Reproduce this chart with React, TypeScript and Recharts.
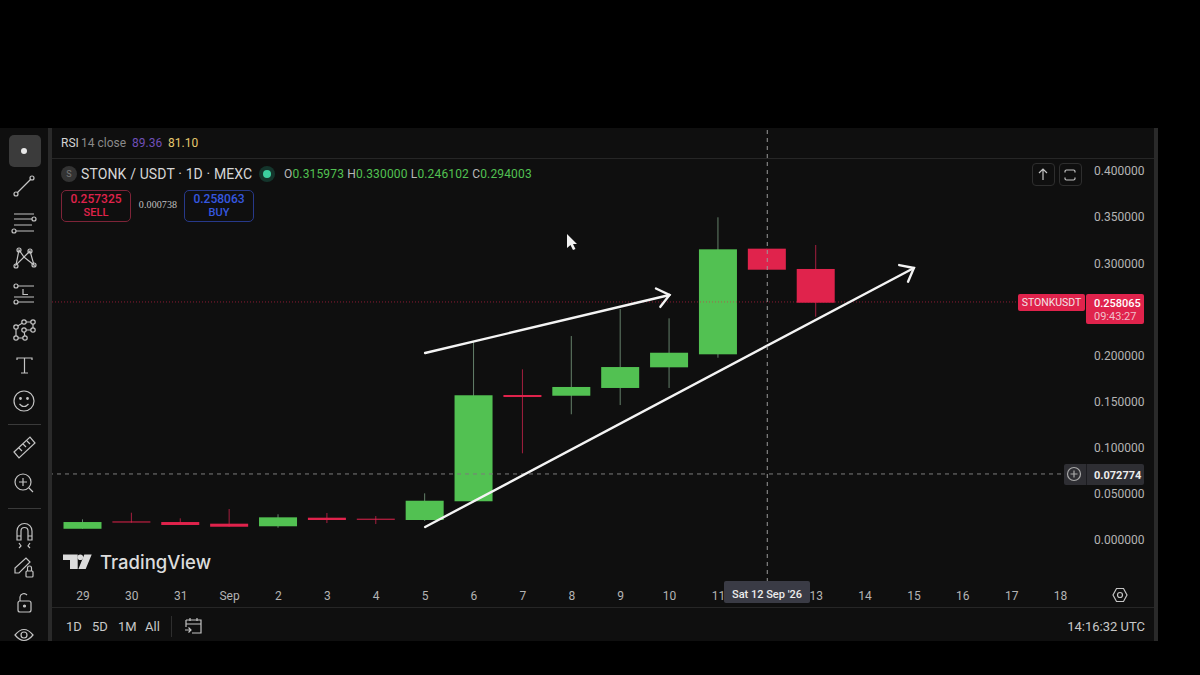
import { Bar, ComposedChart, ReferenceLine, XAxis, YAxis } from 'recharts'

const days = ['29', '30', '31', 'Sep', '2', '3', '4', '5', '6', '7', '8', '9', '10', '11', '12', '13', '14', '15', '16', '17', '18']
const opens = [0.0122, 0.0201, 0.0195, 0.0177, 0.0149, 0.0242, 0.0231, 0.0217, 0.042, 0.1572, 0.1564, 0.1648, 0.1872, 0.2013, 0.3158, 0.2938]
const highs = [0.0224, 0.0296, 0.0235, 0.0336, 0.0279, 0.0293, 0.026, 0.0506, 0.215, 0.185, 0.2211, 0.2504, 0.2403, 0.3498, 0.3158, 0.3198]
const lows = [0.0122, 0.0188, 0.0163, 0.0144, 0.0133, 0.0184, 0.0173, 0.0206, 0.042, 0.094, 0.1363, 0.1463, 0.1648, 0.1976, 0.293, 0.2421]
const closes = [0.0195, 0.0193, 0.0163, 0.0144, 0.0246, 0.0217, 0.022, 0.0426, 0.1569, 0.155, 0.1659, 0.1875, 0.203, 0.3151, 0.293, 0.2572]
const priceTicks = [0, 0.05, 0.1, 0.15, 0.2, 0.3, 0.35, 0.4]
const lastPrice = 0.258065
const crosshairLevel = 0.0716
const crosshairDay = '12'
const upperArrow = [{ x: '5', y: 0.2027 }, { x: '10', y: 0.2656 }]
const lowerArrow = [{ x: '5', y: 0.0141 }, { x: '15', y: 0.2949 }]

const chartData = days.map((day, i) => ({
  day,
  open: opens[i],
  high: highs[i],
  low: lows[i],
  close: closes[i],
  range: i < opens.length ? [lows[i], highs[i]] : null,
}))

const GREEN = '#52c152'
const RED = '#e0234c'
const PANEL = '#0f0f0f'
const TEXT = '#b4b4b4'
const ICON = '#c4c4c4'

function Candle({ x, y, width, height, payload }: any) {
  if (!payload || payload.range == null) return null
  const { open, high, low, close } = payload
  const perUnit = height / (high - low)
  const yOf = (v: number) => y + (high - v) * perUnit
  const isUp = close >= open
  const color = isUp ? GREEN : RED
  const top = yOf(Math.max(open, close))
  const bottom = yOf(Math.min(open, close))
  const mid = x + width / 2
  return (
    <g>
      <line x1={mid} x2={mid} y1={yOf(high)} y2={yOf(low)} stroke={isUp ? '#64806a' : '#a51f3f'} strokeWidth={1} />
      <rect x={x} y={top} width={width} height={Math.max(bottom - top, 1)} fill={color} />
    </g>
  )
}

function Arrow({ x1, y1, x2, y2 }: any) {
  const angle = Math.atan2(y2 - y1, x2 - x1)
  const barb = (side: number) => ({
    x: x2 - 15 * Math.cos(angle + side * 0.68),
    y: y2 - 15 * Math.sin(angle + side * 0.68),
  })
  const a = barb(1)
  const b = barb(-1)
  return (
    <g stroke="#f4f4f4" strokeWidth={2.4} fill="none" strokeLinecap="round">
      <line x1={x1} y1={y1} x2={x2} y2={y2} />
      <polyline points={`${a.x},${a.y} ${x2},${y2} ${b.x},${b.y}`} />
    </g>
  )
}

function Txt({ x, y, color = TEXT, size = 12, right, center, weight, font, spacing, children }: any) {
  const horizontal = center ? { left: x, transform: 'translate(-50%, -50%)' } : right ? { right: 1200 - x, transform: 'translateY(-50%)' } : { left: x, transform: 'translateY(-50%)' }
  return (
    <div
      style={{
        position: 'absolute',
        top: y,
        ...horizontal,
        color,
        fontSize: size,
        fontWeight: weight,
        letterSpacing: spacing,
        fontFamily: font ?? 'Roboto, sans-serif',
        whiteSpace: 'nowrap',
        lineHeight: 1,
      }}
    >
      {children}
    </div>
  )
}

function Box({ x, y, w, h, style }: any) {
  return <div style={{ position: 'absolute', left: x, top: y, width: w, height: h, boxSizing: 'border-box', ...style }} />
}

// drawn in page coordinates, one layer for all the toolbar glyphs
function ToolIcons() {
  return (
    <svg width={1200} height={675} style={{ position: 'absolute', left: 0, top: 0 }} fill="none" stroke={ICON} strokeWidth={1.2}>
      <circle cx={24} cy={151} r={3} fill="#e8e8e8" stroke="none" />
      {/* trend line */}
      <path d="M17 193 L31 179" />
      <circle cx={16} cy={194} r={2} />
      <circle cx={32} cy={178} r={2} />
      {/* parallel lines */}
      <path d="M14 214 H34 M14 219 H32 M14 225 H32 M16 231 H34" />
      <circle cx={34} cy={219} r={2} />
      <circle cx={14} cy={231} r={2} />
      {/* pattern */}
      <path d="M16 265 L19 250 L24 257 L30 251 L34 265 L24 257 Z" />
      <circle cx={16} cy={266} r={2} />
      <circle cx={19} cy={250} r={2} />
      <circle cx={30} cy={251} r={2} />
      <circle cx={34} cy={265} r={2} />
      {/* fib */}
      <path d="M18 286 H34 M14 297 H34 M18 302 H34 M23 289 V294.5 H28" />
      <circle cx={16} cy={286} r={2} />
      <circle cx={16} cy={302} r={2} />
      {/* nodes */}
      <path d="M16 338 H25 L24 330 H33 V322 H24 L16 327 Z" />
      <circle cx={16} cy={327} r={2.2} fill={PANEL} />
      <circle cx={24} cy={322} r={2.2} fill={PANEL} />
      <circle cx={33} cy={322} r={2.2} fill={PANEL} />
      <circle cx={33} cy={330} r={2.2} fill={PANEL} />
      <circle cx={24} cy={330} r={2.2} fill={PANEL} />
      <circle cx={16} cy={338} r={2.2} fill={PANEL} />
      <circle cx={25} cy={338} r={2.2} fill={PANEL} />
      {/* text tool */}
      <path d="M17 360 V358 H32 V360 M24.5 358 V373 M21 373 H28" />
      {/* smile */}
      <circle cx={24} cy={401} r={10} />
      <path d="M19.5 404 Q24 409 28.5 404" />
      <circle cx={20.5} cy={398.5} r={0.8} fill={ICON} />
      <circle cx={27.5} cy={398.5} r={0.8} fill={ICON} />
      {/* ruler */}
      <path d="M14 452 L30 437 L35 443 L19 458 Z M19 448 L22 451 M23 444 L26 447 M27 441 L30 444" />
      {/* zoom */}
      <circle cx={23} cy={482} r={8} />
      <path d="M29 488 L33 492 M19 482 H27 M23 478 V486" />
      {/* magnet */}
      <path d="M17 540 V531 A7 7 0 0 1 32 531 V540 H28 V531 A3 3 0 0 0 21 531 V540 Z M17 536 H21 M28 536 H32" />
      <path d="M19 543 L21 546 L19 548 M30 543 L28 546 L30 548" />
      {/* pencil + lock */}
      <path d="M15 573 L15 568 L26 558 L30 562 L19 573 Z" />
      <rect x={26} y={571} width={7} height={6} rx={1} />
      <path d="M27.5 571 V568 A2 2 0 0 1 31.5 568 V571" />
      {/* open lock */}
      <rect x={18} y={601} width={13} height={11} rx={2} />
      <path d="M20 601 V597 A4 4 0 0 1 27 595" />
      <circle cx={24.5} cy={606} r={1} fill={ICON} />
      {/* eye */}
      <path d="M15 635 Q24 624 33 635 Q24 646 15 635 Z" />
      <circle cx={24} cy={635} r={3} />
      {/* top right buttons */}
      <path d="M1043 180 V169 M1039 173 L1043 169 L1047 173" />
      <path d="M1065 172.5 V171.5 Q1065 170 1066.5 170 H1073.5 Q1075 170 1075 171.5 V172.5 M1065 177.5 V178.5 Q1065 180 1066.5 180 H1073.5 Q1075 180 1075 178.5 V177.5" />
      {/* plus button on the price line */}
      <circle cx={1074} cy={474} r={6.5} stroke="#a8a8a8" />
      <path d="M1070.5 474 H1077.5 M1074 470.5 V477.5" stroke="#a8a8a8" />
      {/* settings hexagon */}
      <path d="M1113 595 L1116.5 588.5 H1123.5 L1127 595 L1123.5 601.5 H1116.5 Z" />
      <circle cx={1120} cy={595} r={2.5} />
      {/* go to date */}
      <path d="M186 620 H201 V633 H192 M186 620 V627 M186 624 H201 M190 618 V621 M197 618 V621 M185 630 H191 M188.5 627.5 L191 630 L188.5 632.5" />
      {/* mouse pointer */}
      <path d="M567 234 L567 248 L570.5 245 L573 250 L575.5 249 L573 244 L577 244 Z" fill="#f2f2f2" stroke="none" />
      {/* TradingView mark */}
      <path d="M63 554.5 H77.7 V569 H70 V560 H63 Z M84.3 554.5 H91.7 L85.7 569 H78.4 Z" fill="#dcdcdc" stroke="none" />
      <circle cx={80.3} cy={557.3} r={2.8} fill="#dcdcdc" stroke="none" />
    </svg>
  )
}

export default function App() {
  return (
    <div style={{ position: 'absolute', left: 0, top: 0, width: 1200, height: 675, background: '#000', overflow: 'hidden' }}>
      <Box x={0} y={128} w={1158} h={513} style={{ background: PANEL }} />
      <Box x={48} y={128} w={4} h={513} style={{ background: '#2a2a2a' }} />
      <Box x={1154} y={128} w={4} h={513} style={{ background: '#2a2a2a' }} />
      <Box x={52} y={158} w={1102} h={1} style={{ background: '#262626' }} />
      <Box x={52} y={607} w={1102} h={1} style={{ background: '#262626' }} />
      <Box x={9} y={135} w={32} h={32} style={{ background: '#3b3b3b', borderRadius: 5 }} />
      <Box x={8} y={424} w={33} h={1} style={{ background: '#3a3a3a' }} />
      <Box x={8} y={508} w={33} h={1} style={{ background: '#3a3a3a' }} />

      <div style={{ position: 'absolute', left: 0, top: 0 }}>
        <ComposedChart width={1200} height={675} data={chartData} margin={{ top: 128, right: 0, bottom: 68, left: 52 }}>
          <XAxis
            dataKey="day"
            interval={0}
            height={25}
            padding={{ left: 6.5, right: 0 }}
            axisLine={false}
            tickLine={false}
            tick={{ fill: TEXT, fontSize: 12, fontFamily: 'Roboto, sans-serif' }}
            tickFormatter={(d) => (d === crosshairDay ? '' : d)}
            tickMargin={3}
          />
          <YAxis
            orientation="right"
            width={115}
            domain={[-0.0455, 0.4466]}
            ticks={priceTicks}
            allowDataOverflow
            axisLine={false}
            tickLine={false}
            tickFormatter={(v) => Number(v).toFixed(6)}
            tick={{ fill: TEXT, fontSize: 12, fontFamily: 'Roboto, sans-serif', textAnchor: 'start' }}
            tickMargin={3}
          />
          <ReferenceLine y={lastPrice} stroke={RED} strokeOpacity={0.6} strokeDasharray="1 2" />
          <ReferenceLine y={crosshairLevel} stroke="#7c7c7c" strokeDasharray="4 4" />
          <ReferenceLine segment={upperArrow} shape={Arrow} />
          <ReferenceLine segment={lowerArrow} shape={Arrow} />
          <Bar dataKey="range" barSize={38} shape={Candle} isAnimationActive={false} />
          <ReferenceLine x={crosshairDay} stroke="#9a9a9a" strokeDasharray="4 4" />
        </ComposedChart>
      </div>

      <Txt x={61} y={143} color="#d4d4d4">RSI</Txt>
      <Txt x={81} y={143} color="#8a8a8a">14 close</Txt>
      <Txt x={132} y={143} color="#6f4fb8">89.36</Txt>
      <Txt x={168} y={143} color="#e6c86e">81.10</Txt>

      <Box x={61} y={166} w={16} h={16} style={{ background: '#333', borderRadius: '50%' }} />
      <Txt x={69} y={174} center color="#777" size={9}>S</Txt>
      <Txt x={81} y={174} color="#d6d6d6" size={14} spacing={0.13}>STONK / USDT · 1D · MEXC</Txt>
      <Box x={259} y={166} w={16} h={16} style={{ background: '#14352c', borderRadius: '50%' }} />
      <Box x={263} y={170} w={8} h={8} style={{ background: '#3ccf9f', borderRadius: '50%' }} />
      <div style={{ position: 'absolute', left: 284, top: 168, color: '#b8b8b8', fontSize: 12, letterSpacing: 0.16, fontFamily: 'Roboto, sans-serif', lineHeight: 1, whiteSpace: 'nowrap' }}>
        O<span style={{ color: GREEN }}>0.315973</span>{' '}H<span style={{ color: GREEN }}>0.330000</span>{' '}L<span style={{ color: GREEN }}>0.246102</span>{' '}C<span style={{ color: GREEN }}>0.294003</span>
      </div>

      <Box x={61} y={190} w={70} h={32} style={{ border: '1px solid #7e2438', borderRadius: 5 }} />
      <Txt x={96} y={199} center color={RED} size={12} weight={500}>0.257325</Txt>
      <Txt x={96} y={211.5} center color={RED} size={11} weight={500}>SELL</Txt>
      <Txt x={158} y={205} center color="#c0c0c0" size={10} font="'Liberation Serif', serif" spacing={0.1}>0.000738</Txt>
      <Box x={184} y={190} w={70} h={32} style={{ border: '1px solid #27398a', borderRadius: 5 }} />
      <Txt x={219} y={199} center color="#3658e0" size={12} weight={500}>0.258063</Txt>
      <Txt x={219} y={211.5} center color="#3658e0" size={11} weight={500}>BUY</Txt>

      <Box x={1032} y={163} w={23} h={23} style={{ border: '1px solid #2e2e2e', borderRadius: 4 }} />
      <Box x={1059} y={163} w={23} h={23} style={{ border: '1px solid #2e2e2e', borderRadius: 4 }} />

      <Box x={1018} y={294} w={67} h={17} style={{ background: RED, borderRadius: 2 }} />
      <Txt x={1051.5} y={302.5} center color="#f2e4e7" size={10.5}>STONKUSDT</Txt>
      <Box x={1086} y={294} w={58} h={30} style={{ background: RED, borderRadius: 2 }} />
      <Txt x={1094} y={302.5} color="#fff" size={11} weight={500}>0.258065</Txt>
      <Txt x={1094} y={315.5} color="#f0c0cb" size={11}>09:43:27</Txt>

      <Box x={1064} y={464} w={80} h={21} style={{ background: '#2e2e33', borderRadius: 2 }} />
      <Box x={1086} y={464} w={1} h={21} style={{ background: '#1c1c20' }} />
      <Txt x={1094} y={474.5} color="#ececec" size={11} weight={700}>0.072774</Txt>

      <Box x={724} y={581} w={86} h={22} style={{ background: '#3a3b45', borderRadius: 2 }} />
      <Txt x={767} y={593.5} center color="#ececec" size={11} weight={500}>Sat 12 Sep '26</Txt>

      <Txt x={100} y={561.7} color="#dcdcdc" size={18.5} weight={500} font="Inter, sans-serif">TradingView</Txt>

      <Txt x={66} y={626} color="#c8c8c8" size={13}>1D</Txt>
      <Txt x={92} y={626} color="#c8c8c8" size={13}>5D</Txt>
      <Txt x={118} y={626} color="#c8c8c8" size={13}>1M</Txt>
      <Txt x={145} y={626} color="#c8c8c8" size={13}>All</Txt>
      <Box x={171} y={616} w={1} h={21} style={{ background: '#2e2e2e' }} />
      <Txt x={1145} y={626} right color="#c8c8c8" size={13}>14:16:32 UTC</Txt>

      <ToolIcons />
    </div>
  )
}
